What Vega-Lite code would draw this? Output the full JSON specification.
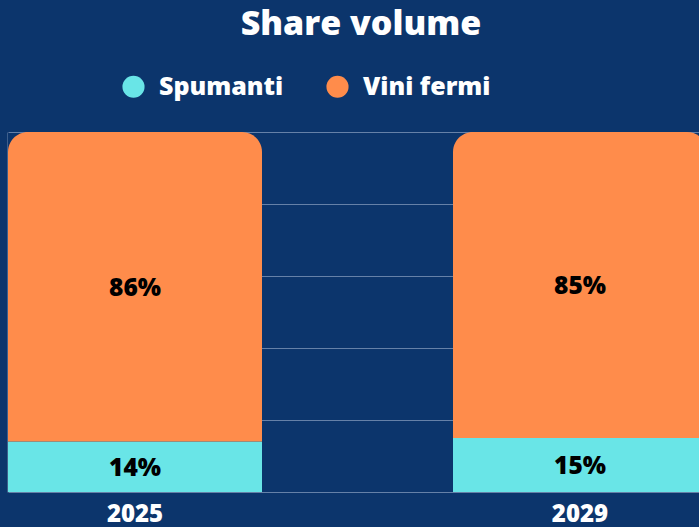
{
  "$schema": "https://vega.github.io/schema/vega-lite/v6.json",
  "width": 692,
  "height": 360,
  "autosize": "none",
  "padding": {"left": 7, "top": 132, "right": 0, "bottom": 35},
  "background": "#0C356C",
  "config": {"view": {"stroke": null}, "font": "Open Sans"},
  "title": {
    "text": "Share volume",
    "fontSize": 34,
    "fontWeight": 800,
    "color": "white",
    "font": "Open Sans",
    "anchor": "middle",
    "frame": "group",
    "dx": 8,
    "offset": 5,
    "baseline": "alphabetic"
  },
  "data": {
    "values": [
      {"year": "2025", "category": "Spumanti", "share": 0.14},
      {"year": "2025", "category": "Vini fermi", "share": 0.86},
      {"year": "2029", "category": "Spumanti", "share": 0.15},
      {"year": "2029", "category": "Vini fermi", "share": 0.85}
    ]
  },
  "transform": [
    {"stack": "share", "groupby": ["year"], "sort": [{"field": "category", "order": "ascending"}], "as": ["y0", "y1"]},
    {"calculate": "(datum.y0 + datum.y1) / 2", "as": "mid"}
  ],
  "encoding": {
    "x": {
      "field": "year",
      "type": "nominal",
      "scale": {"range": [1, 700], "paddingInner": 0.4292, "paddingOuter": 0},
      "axis": {
        "title": null,
        "labelAngle": 0,
        "labelColor": "white",
        "labelFontSize": 24,
        "labelFontWeight": 800,
        "labelFont": "Open Sans",
        "ticks": false,
        "domain": false,
        "labelPadding": 10
      }
    }
  },
  "layer": [
    {
      "mark": {
        "type": "bar",
        "cornerRadiusTopLeft": {"expr": "datum.category == 'Vini fermi' ? 20 : 0"},
        "cornerRadiusTopRight": {"expr": "datum.category == 'Vini fermi' ? 20 : 0"}
      },
      "encoding": {
        "y": {
          "field": "y0",
          "type": "quantitative",
          "scale": {"domain": [0, 1]},
          "axis": {
            "title": null,
            "values": [0, 0.2, 0.4, 0.6, 0.8, 1],
            "labels": false,
            "ticks": false,
            "grid": true,
            "gridColor": "#6681A8",
            "gridWidth": 1,
            "domain": true,
            "domainColor": "#3E5F8C"
          }
        },
        "y2": {"field": "y1"},
        "color": {
          "field": "category",
          "type": "nominal",
          "scale": {"domain": ["Spumanti", "Vini fermi"], "range": ["#69E5E7", "#FF8C4B"]},
          "legend": {
            "title": null,
            "orient": "none",
            "legendX": 114,
            "legendY": -58,
            "direction": "horizontal",
            "symbolType": "circle",
            "symbolSize": 490,
            "symbolStrokeWidth": 0,
            "symbolOpacity": 1,
            "labelFontSize": 25,
            "labelFontWeight": 800,
            "labelFont": "Open Sans",
            "labelColor": "white",
            "labelOffset": 13,
            "columnPadding": 41,
            "padding": 0
          }
        }
      }
    },
    {
      "mark": {"type": "text", "fontSize": 24.5, "fontWeight": 800, "font": "Open Sans", "color": "black", "baseline": "middle", "dy": 2},
      "encoding": {
        "y": {"field": "mid", "type": "quantitative"},
        "text": {"field": "share", "type": "quantitative", "format": ".0%"}
      }
    }
  ]
}
